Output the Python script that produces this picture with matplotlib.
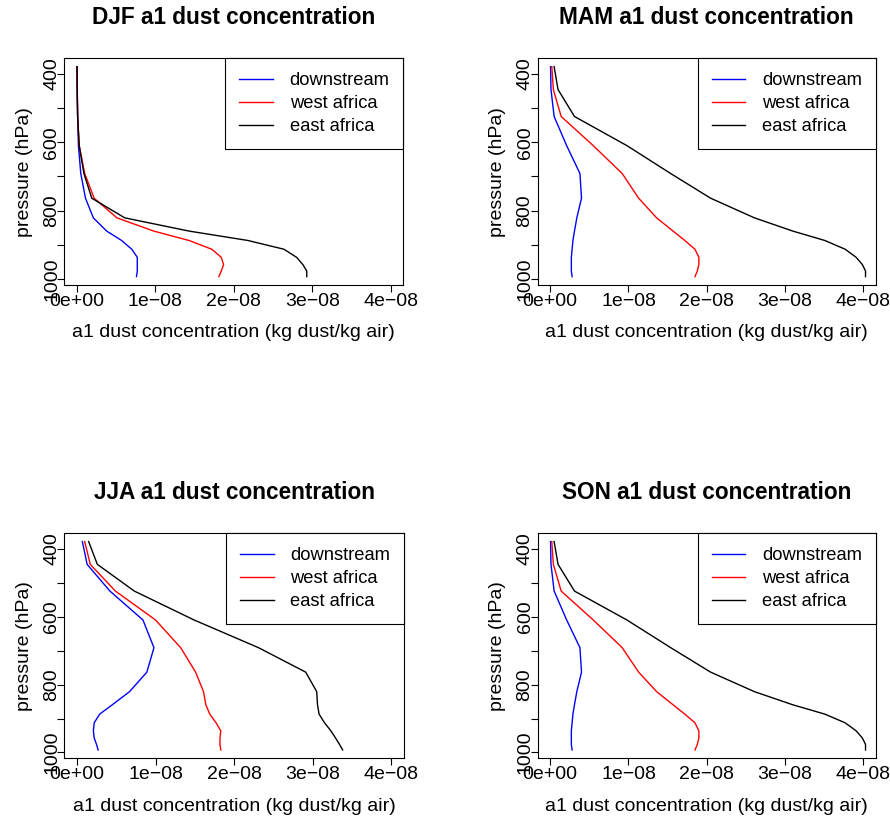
import matplotlib
matplotlib.use("Agg")
import matplotlib.pyplot as plt

plt.rcParams['font.family'] = ['Liberation Sans', 'DejaVu Sans']

# model mid-level pressures (hPa), lowest 14 levels
pressure = [379.10, 445.99, 524.69, 609.78, 691.39, 763.40, 820.86,
            859.53, 887.02, 912.64, 936.20, 957.49, 976.33, 992.56]

# a1 dust concentration, units of 1e-08 kg dust/kg air
djf_downstream = [0.00, 0.003, 0.01, 0.02, 0.05, 0.11, 0.21, 0.38, 0.57, 0.70, 0.77, 0.77, 0.77, 0.76]
djf_west = [0.003, 0.005, 0.01, 0.03, 0.10, 0.22, 0.51, 0.98, 1.43, 1.72, 1.84, 1.87, 1.84, 1.81]
djf_east = [0.003, 0.005, 0.01, 0.03, 0.09, 0.19, 0.61, 1.43, 2.18, 2.64, 2.80, 2.88, 2.93, 2.93]

mam_downstream = [0.004, 0.01, 0.05, 0.21, 0.38, 0.40, 0.34, 0.31, 0.29, 0.28, 0.27, 0.27, 0.27, 0.28]
mam_west = [0.02, 0.04, 0.14, 0.55, 0.92, 1.13, 1.36, 1.57, 1.72, 1.85, 1.90, 1.90, 1.88, 1.85]
mam_east = [0.05, 0.10, 0.31, 0.98, 1.54, 2.05, 2.61, 3.10, 3.51, 3.77, 3.91, 3.99, 4.03, 4.03]

jja_downstream = [0.07, 0.13, 0.42, 0.84, 0.98, 0.89, 0.67, 0.45, 0.29, 0.22, 0.21, 0.22, 0.25, 0.27]
jja_west = [0.10, 0.17, 0.49, 1.00, 1.32, 1.51, 1.61, 1.64, 1.69, 1.77, 1.83, 1.82, 1.82, 1.83]
jja_east = [0.15, 0.26, 0.73, 1.49, 2.31, 2.91, 3.05, 3.06, 3.08, 3.15, 3.23, 3.29, 3.34, 3.38]

son_downstream = [0.004, 0.01, 0.05, 0.21, 0.38, 0.40, 0.34, 0.31, 0.29, 0.28, 0.27, 0.27, 0.27, 0.28]
son_west = [0.02, 0.04, 0.14, 0.55, 0.92, 1.13, 1.36, 1.57, 1.72, 1.85, 1.90, 1.90, 1.88, 1.85]
son_east = [0.05, 0.10, 0.31, 0.98, 1.54, 2.05, 2.61, 3.10, 3.51, 3.77, 3.91, 3.99, 4.03, 4.03]

seasons = ["DJF", "MAM", "JJA", "SON"]
regions = ["downstream", "west africa", "east africa"]
colours = ["blue", "red", "black"]
xticks = [0, 1e-08, 2e-08, 3e-08, 4e-08]
xticklabels = ["0e+00", "1e\u221208", "2e\u221208", "3e\u221208", "4e\u221208"]
yticks = [400, 500, 600, 700, 800, 900, 1000]
yticklabels = ["400", "", "600", "", "800", "", "1000"]

data = {
    "DJF": [djf_downstream, djf_west, djf_east],
    "MAM": [mam_downstream, mam_west, mam_east],
    "JJA": [jja_downstream, jja_west, jja_east],
    "SON": [son_downstream, son_west, son_east],
}

W, H = 890, 817
fig = plt.figure(figsize=(W / 100, H / 100), dpi=100)

# axes boxes in pixels: left, top, right, bottom
boxes = [(64.3, 58.3, 403.3, 285.0), (537.7, 58.3, 875.7, 285.0),
         (64.3, 533.3, 404.0, 758.3), (537.7, 533.3, 875.7, 758.3)]

fs = 14
for season, (l, t, r, b) in zip(seasons, boxes):
    ax = fig.add_axes([l / W, 1 - b / H, (r - l) / W, (b - t) / H])
    for vals, name, col in zip(data[season], regions, colours):
        ax.plot([v * 1e-08 for v in vals], pressure, color=col, lw=1.0, label=name)
    ax.set_xlim(-0.16e-08, 4.16e-08)
    ax.set_ylim(1017.1, 354.6)
    ax.set_xticks(xticks)
    ax.set_xticklabels(xticklabels, fontsize=fs)
    ax.set_yticks(yticks)
    ax.set_yticklabels(yticklabels, fontsize=fs, rotation=90, va='center')
    ax.tick_params(length=5, width=0.8)
    ax.tick_params(axis='x', pad=0.5)
    ax.tick_params(axis='y', pad=-2)
    for sp in ax.spines.values():
        sp.set_linewidth(0.8)
    ax.set_xlabel("a1 dust concentration (kg dust/kg air)", fontsize=fs, labelpad=10.5)
    ax.set_ylabel("pressure (hPa)", fontsize=fs, labelpad=7.5)
    ax.set_title(season + " a1 dust concentration", fontsize=16.3,
                 fontweight='bold', pad=24.5)
    leg = ax.legend(loc='upper right', borderaxespad=0, fancybox=False,
                    fontsize=13.2, handlelength=1.85, handletextpad=0.9,
                    labelspacing=0.33, borderpad=0.75, framealpha=1)
    leg.get_frame().set_edgecolor('black')
    leg.get_frame().set_linewidth(0.8)

fig.savefig("out.png", dpi=100)
